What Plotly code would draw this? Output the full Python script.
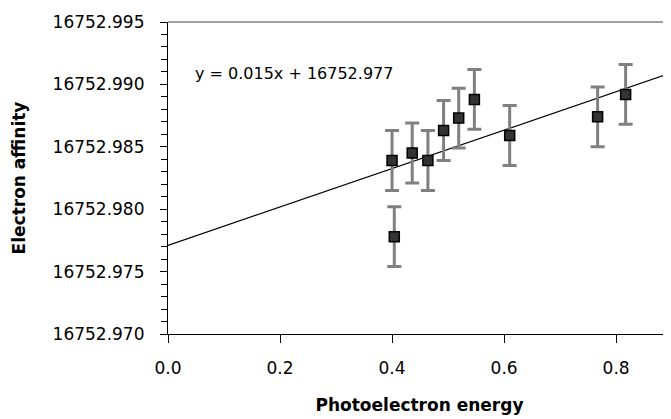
import numpy as np
import plotly.graph_objects as go

# Data
photoelectron_energy = [0.400, 0.404, 0.436, 0.464, 0.492, 0.519, 0.547, 0.610, 0.767, 0.817]
electron_affinity = [16752.9839, 16752.9778, 16752.9845, 16752.9839, 16752.9863,
                     16752.9873, 16752.9888, 16752.9859, 16752.9874, 16752.9892]
error = [0.0024] * 10
equation_text = "y = 0.015x + 16752.977"
y_ticks = [16752.970, 16752.975, 16752.980, 16752.985, 16752.990, 16752.995]
x_ticks = [0.0, 0.2, 0.4, 0.6, 0.8]

x = np.array(photoelectron_energy)
y = np.array(electron_affinity)
# linear trendline (least squares) computed from the data
slope, intercept = np.polyfit(x, y - 16752.97, 1)
x_range = [0.0, 0.898]
x_line = np.array(x_range)
y_line = slope * x_line + intercept + 16752.97

FONT = "DejaVu Sans"

fig = go.Figure()
fig.add_trace(go.Scatter(
    x=x_line, y=y_line, mode="lines",
    line=dict(color="black", width=1.2), showlegend=False, hoverinfo="skip"))
fig.add_trace(go.Scatter(
    x=x, y=y, mode="markers",
    marker=dict(symbol="square", size=10, color="#333333",
                line=dict(color="black", width=1.5)),
    error_y=dict(type="data", array=error, visible=True,
                 color="#808080", thickness=3, width=7),
    showlegend=False))

fig.add_annotation(x=0.044, y=16752.9909, xref="x", yref="y",
                   text=equation_text, showarrow=False,
                   xanchor="left", yanchor="middle",
                   font=dict(family=FONT, size=16, color="black"))

# top border of the plot area
fig.add_shape(type="line", xref="paper", yref="paper", x0=0, x1=1, y0=1, y1=1,
              line=dict(color="#808080", width=1.5))

# page body has an 8px margin, so the figure is sized to fill the remaining window
fig.update_layout(
    width=663, height=411,
    margin=dict(l=160, r=0, t=14, b=85),
    paper_bgcolor="white", plot_bgcolor="white",
    font=dict(family=FONT, color="black"),
    xaxis=dict(
        range=x_range, tickvals=x_ticks, ticktext=[f"{v:.1f}" for v in x_ticks],
        showgrid=False, zeroline=False,
        showline=True, linecolor="black", linewidth=1.2,
        ticks="outside", ticklen=8, tickwidth=1, tickcolor="black",
        tickfont=dict(family=FONT, size=17),
        ticklabelstandoff=10,
        title=dict(text="<b>Photoelectron energy</b>", font=dict(family=FONT, size=17), standoff=22),
        automargin=False,
    ),
    yaxis=dict(
        range=[16752.970, 16752.995], tickvals=y_ticks,
        ticktext=[f"{v:.3f}" for v in y_ticks],
        showgrid=False, zeroline=False,
        showline=True, linecolor="black", linewidth=1.2,
        ticks="outside", ticklen=7, tickwidth=1, tickcolor="black",
        minor=dict(dtick=0.001, tick0=16752.970, ticks="outside", ticklen=6,
                   tickcolor="black", tickwidth=1, showgrid=False),
        tickfont=dict(family=FONT, size=17),
        ticklabelstandoff=12,
        title=dict(text="<b>Electron affinity</b>", font=dict(family=FONT, size=17), standoff=22),
        automargin=False,
    ),
)

fig.write_html("out.html")
